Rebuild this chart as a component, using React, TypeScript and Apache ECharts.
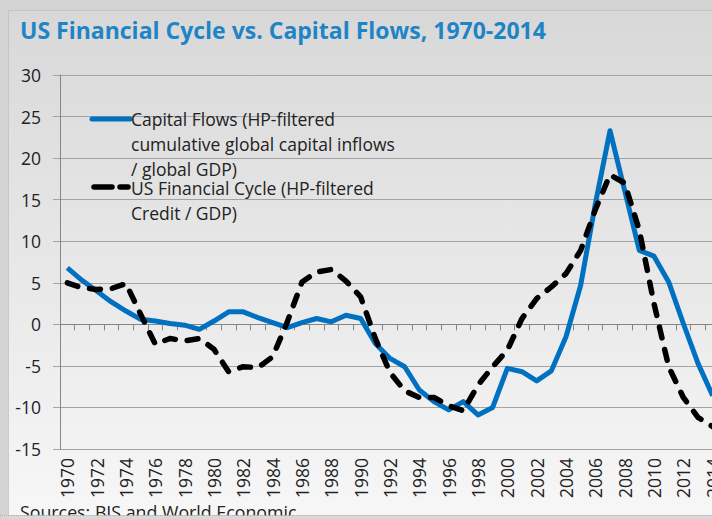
import { useEffect, useRef } from "react";
import * as echarts from "echarts";

const years: string[] = [];
for (let y = 1970; y <= 2014; y++) years.push(String(y));

const capitalFlows = [
  6.8, 5.3, 4.0, 2.7, 1.6, 0.6, 0.4, 0.1, -0.1, -0.6,
  0.4, 1.5, 1.5, 0.8, 0.2, -0.4, 0.2, 0.7, 0.3, 1.1,
  0.7, -2.3, -4.1, -5.1, -7.9, -9.3, -10.3, -9.3, -10.9, -10.0,
  -5.3, -5.7, -6.8, -5.6, -1.5, 4.7, 14.5, 23.3, 16.1, 8.9,
  8.2, 5.1, 0.1, -4.7, -8.6,
];

const usFinancialCycle = [
  5.0, 4.4, 4.2, 4.3, 4.9, 1.2, -2.4, -1.7, -2.0, -1.7,
  -3.0, -5.7, -5.1, -5.2, -3.9, 0.3, 5.1, 6.3, 6.6, 5.2,
  3.3, -1.7, -5.8, -8.0, -8.8, -8.8, -9.8, -10.4, -7.3, -5.1,
  -3.1, 0.7, 3.1, 4.5, 6.1, 8.9, 13.8, 18.0, 17.0, 11.3,
  2.5, -5.1, -8.8, -11.2, -12.3,
];

const yMin = -15;
const yMax = 30;
const yInterval = 5;

const titleText = "US Financial Cycle vs. Capital Flows, 1970-2014";
const legendCapitalLines = ["Capital Flows (HP-filtered", "cumulative global capital inflows", "/ global GDP)"];
const legendCycleLines = ["US Financial Cycle (HP-filtered", "Credit / GDP)"];
const sourceText = "Sources: BIS and World Economic";

const FONT = "'Open Sans', 'Noto Sans', sans-serif";

export default function App() {
  const ref = useRef<HTMLDivElement>(null);
  useEffect(() => {
    const chart = echarts.init(ref.current!, null, { renderer: "svg" });
    const legendTexts: any[] = [];
    const cap0 = 119.3;
    legendCapitalLines.forEach((t, i) => {
      legendTexts.push({
        type: "text",
        z: 50,
        x: 131,
        y: cap0 + i * 24.7,
        style: {
          text: t,
          fontFamily: FONT,
          fontSize: 17.5,
          lineHeight: 18,
          fill: "#222",
          textVerticalAlign: "middle",
        },
      });
    });
    const cyc0 = 188;
    legendCycleLines.forEach((t, i) => {
      legendTexts.push({
        type: "text",
        z: 50,
        x: 131,
        y: cyc0 + i * 25,
        style: {
          text: t,
          fontFamily: FONT,
          fontSize: 17.5,
          lineHeight: 18,
          fill: "#222",
          textVerticalAlign: "middle",
        },
      });
    });
    chart.setOption({
      animation: false,
      backgroundColor: "transparent",
      grid: { left: 60, right: 10, top: 75, bottom: 70, containLabel: false },
      xAxis: [
        {
          type: "category",
          data: years,
          boundaryGap: true,
          axisLine: { show: true, onZero: true, lineStyle: { color: "#868686", width: 1 } },
          axisTick: { show: true, interval: 0, length: 6, lineStyle: { color: "#868686" } },
          axisLabel: { show: false },
          splitLine: { show: false },
        },
        {
          type: "category",
          data: years,
          position: "bottom",
          boundaryGap: true,
          axisLine: { show: false, onZero: false },
          axisTick: { show: false },
          axisLabel: {
            interval: 1,
            rotate: 90,
            margin: 9,
            fontSize: 17.5,
            color: "#222",
            fontFamily: FONT,
          },
          splitLine: { show: false },
        },
      ],
      yAxis: {
        type: "value",
        min: yMin,
        max: yMax,
        interval: yInterval,
        axisLine: { show: true, lineStyle: { color: "#868686" } },
        axisTick: { show: true, length: 7, lineStyle: { color: "#a3a3a3" } },
        axisLabel: { margin: 19, fontSize: 17.5, color: "#222", fontFamily: FONT },
        splitLine: { show: true, lineStyle: { color: "#a3a3a3", width: 1 } },
      },
      series: [
        {
          name: "Capital Flows",
          type: "line",
          xAxisIndex: 0,
          data: capitalFlows,
          symbol: "none",
          lineStyle: { color: "#0070C0", width: 5, join: "round" },
          z: 3,
        },
        {
          name: "US Financial Cycle",
          type: "line",
          xAxisIndex: 0,
          data: usFinancialCycle,
          symbol: "none",
          lineStyle: { color: "#000", width: 5.5, type: [11, 12], cap: "round", join: "round" },
          z: 4,
        },
      ],
      graphic: [
        {
          type: "rect",
          z: -10,
          silent: true,
          shape: { x: 8.5, y: 10.5, width: 720, height: 505 },
          style: {
            fill: new echarts.graphic.LinearGradient(0, 0, 0, 1, [
              { offset: 0, color: "#d8d8d8" },
              { offset: 1, color: "#f7f7f7" },
            ]),
            stroke: "#b3b3b3",
            lineWidth: 1,
            lineDash: [1, 1],
          },
        },
        {
          type: "text",
          z: 50,
          x: 20,
          y: 30,
          style: {
            text: titleText,
            fontFamily: FONT,
            fontWeight: "bold",
            fontSize: 23,
            fill: "#1f84c6",
            textVerticalAlign: "middle",
          },
        },
        {
          type: "line",
          z: 50,
          shape: { x1: 92, y1: 119, x2: 130, y2: 119 },
          style: { stroke: "#0070C0", lineWidth: 5, lineCap: "round" },
        },
        {
          type: "line",
          z: 50,
          shape: { x1: 94, y1: 187, x2: 112, y2: 187 },
          style: { stroke: "#000", lineWidth: 5.5, lineCap: "round" },
        },
        {
          type: "line",
          z: 50,
          shape: { x1: 120, y1: 187, x2: 128, y2: 187 },
          style: { stroke: "#000", lineWidth: 5.5, lineCap: "round" },
        },
        ...legendTexts,
        {
          type: "text",
          z: 50,
          x: 20,
          y: 503,
          style: {
            text: sourceText,
            fontFamily: FONT,
            fontSize: 17.8,
            fill: "#222",
            textVerticalAlign: "top",
          },
        },
        {
          type: "rect",
          z: 60,
          silent: true,
          shape: { x: 0, y: 515.5, width: 730, height: 10 },
          style: { fill: "#d8d8d8", stroke: "#b3b3b3", lineWidth: 1, lineDash: [1, 1] },
        },
      ],
    });
    return () => chart.dispose();
  }, []);
  return (
    <div
      style={{
        position: "fixed",
        left: 0,
        top: 0,
        width: 712,
        height: 519,
        overflow: "hidden",
        background: "#d4d4d4",
      }}
    >
      <div ref={ref} style={{ width: 730, height: 519 }} />
    </div>
  );
}
